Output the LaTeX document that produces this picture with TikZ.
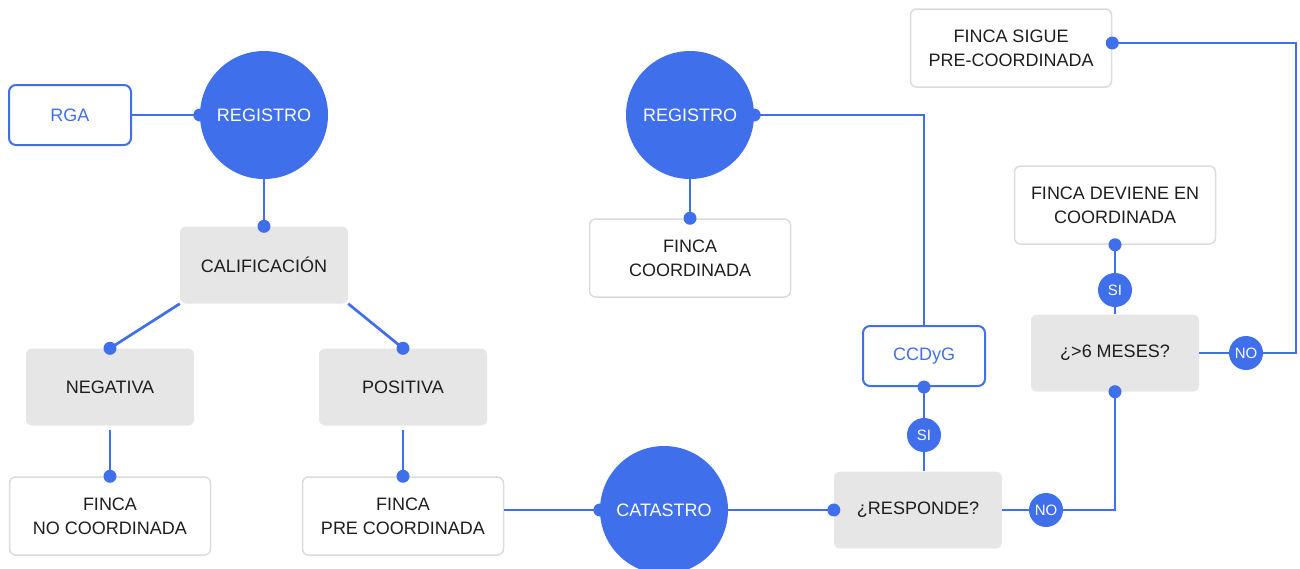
\documentclass[tikz,border=0pt]{standalone}
\usepackage{fontspec}
\setmainfont{Liberation Sans}

\definecolor{azul}{HTML}{3F6FEB}
\definecolor{gris}{HTML}{E6E6E6}
\definecolor{borde}{HTML}{DCDCDC}
\definecolor{texto}{HTML}{1E1E1E}

\begin{document}
\begin{tikzpicture}[x=1pt, y=-1pt,
            every node/.style = {font=\fontsize{18}{24}\selectfont, text=texto, align=center},
            caja/.style = {draw=borde, line width=1.5pt, rounded corners=6pt, minimum width=201pt, minimum height=78pt},
            paso/.style = {fill=gris, rounded corners=6pt, minimum width=168pt, minimum height=77pt},
            ente/.style = {draw=azul, line width=2pt, rounded corners=7pt, text=azul, minimum width=122pt, minimum height=60pt},
            sede/.style = {circle, fill=azul, text=white, minimum size=128pt, inner sep=0pt},
            resp/.style = {circle, fill=azul, text=white, minimum size=34pt, inner sep=0pt, font=\fontsize{15}{17}\selectfont},
            dot/.style = {circle, fill=azul, minimum size=13pt, inner sep=0pt},
            link/.style = {draw=azul, line width=2.7pt}]
            \useasboundingbox (0,0) rectangle (1300,568);
            % rama del registro
            \node[ente] (rga) at (70,115) {RGA};
            \node[sede] (reg1) at (264,115) {REGISTRO};
            \node[paso] (calif) at (264,265) {CALIFICACIÓN};
            \node[paso] (neg) at (110,387) {NEGATIVA};
            \node[paso] (pos) at (403,387) {POSITIVA};
            \node[caja] (nocoord) at (110,516) {FINCA\\NO COORDINADA};
            \node[caja] (precoord) at (403,516) {FINCA\\PRE COORDINADA};
            % catastro
            \node[sede] (catastro) at (664,510) {CATASTRO};
            \node[sede] (reg2) at (690,115) {REGISTRO};
            \node[caja] (coord) at (690,258) {FINCA\\COORDINADA};
            \node[ente] (ccdyg) at (924,356) {CCDyG};
            \node[paso] (responde) at (918,510) {¿RESPONDE?};
            \node[paso] (meses) at (1115,353) {¿>6 MESES?};
            \node[caja] (deviene) at (1115,205) {FINCA DEVIENE EN\\COORDINADA};
            \node[caja] (sigue) at (1011,48) {FINCA SIGUE\\PRE-COORDINADA};
            \node[resp] (si1) at (924,435) {SI};
            \node[resp] (no1) at (1046,510) {NO};
            \node[resp] (si2) at (1115,290) {SI};
            \node[resp] (no2) at (1246,353) {NO};
            \coordinate (esq) at (1296,353);

            \draw[link] (rga.east) -- (reg1.west) node[dot] {};
            \draw[link] (reg1.south) -- (calif.north) node[dot] {};
            \draw[link] (calif.south west) -- (neg.north) node[dot] {};
            \draw[link] (calif.south east) -- (pos.north) node[dot] {};
            \draw[link] ([yshift=-4pt]neg.south) -- (nocoord.north) node[dot] {};
            \draw[link] ([yshift=-4pt]pos.south) -- (precoord.north) node[dot] {};
            \draw[link] (catastro.west -| precoord.east) -- (catastro.west) node[dot] {};
            \draw[link] (catastro.east) -- (responde.west) node[dot] {};
            \draw[link] (reg2.south) -- (coord.north) node[dot] {};
            \draw[link] (reg2.east) node[dot] {} -| (ccdyg.north);
            \draw[link] (ccdyg.south) node[dot] {} -- (si1) -- (si1 |- responde.north);
            \draw[link] (responde.east) -- (no1) -| (meses.south) node[dot] {};
            \draw[link] (meses.north) -- (si2) -- (deviene.south) node[dot] {};
            \draw[link] (meses.east) -- (no2) -- (esq) |- ([yshift=5pt]sigue.east) node[dot] {};
\end{tikzpicture}
\end{document}
